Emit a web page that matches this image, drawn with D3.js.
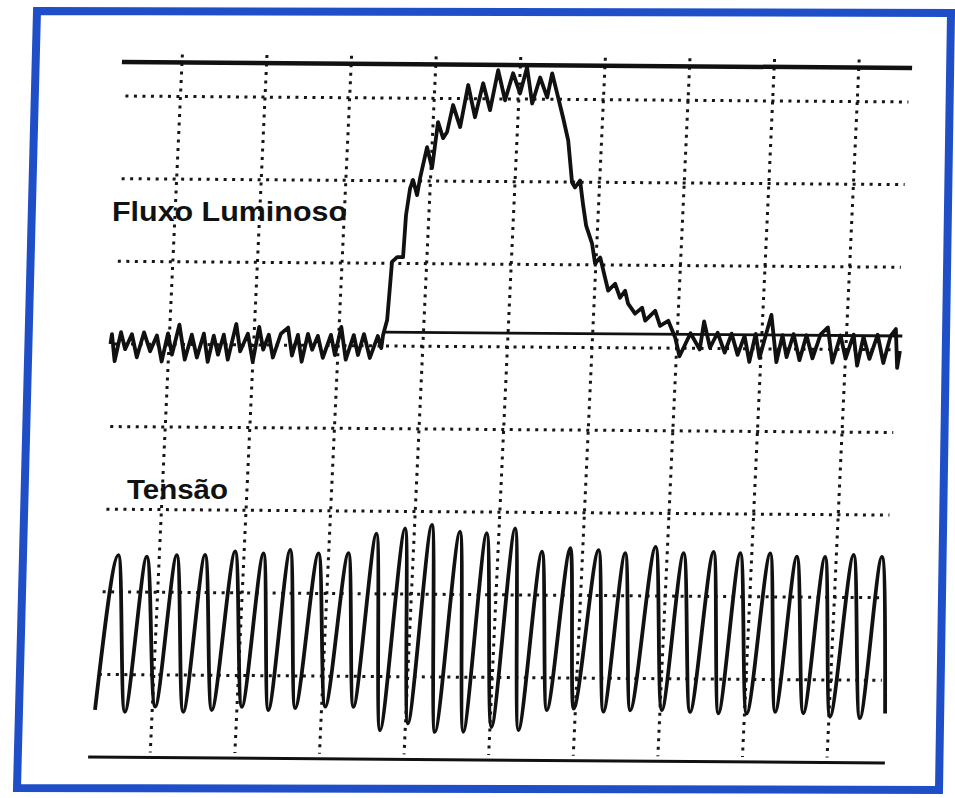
<!DOCTYPE html>
<html>
<head>
<meta charset="utf-8">
<script src="https://cdn.jsdelivr.net/npm/d3@7/dist/d3.min.js"></script>
<style>
  body { margin: 0; background: #fff; }
  svg { display: block; }
</style>
</head>
<body>
<svg id="chart" width="955" height="798"></svg>
<script>
// time in ms (50 ms / div), flux in % of peak, voltage in V (200 V / div)
var gridTimes = [50, 100, 150, 200, 250, 300, 350, 400, 450];
var gridDivs = [0, 1, 2, 3, 4, 5, 6, 7];
var labels = ['Fluxo Luminoso', 'Tensão'];

var fluxT = [15.4, 16.0, 18.3, 21.3, 24.2, 27.8, 31.3, 34.9, 39.0, 42.6, 46.1, 49.1, 52.0, 55.6, 59.7, 63.2, 66.8, 70.3, 73.3, 76.2,
  79.2, 82.1, 85.1, 89.2, 92.2, 96.3, 99.9, 102.8, 105.8, 108.7, 111.7, 115.8, 119.9, 122.9, 125.9, 128.8, 131.8, 134.7, 137.7, 141.2,
  145.4, 148.3, 151.3, 154.8, 158.9, 161.9, 164.9, 169.0, 173.1, 175.5,
  176.2, 178.2, 179.5, 182.4, 185.9, 186.5, 188.2, 189.7, 192.5, 193.8, 197.1, 200.6, 202.9, 206.3, 208.5, 211.3, 216.1, 219.7, 224.6, 228.5,
  233.3, 237.0, 241.9, 245.9, 250.6, 254.0, 258.0, 262.0, 266.7, 269.0, 272.5, 276.6, 280.3, 283.7, 285.6, 288.4, 290.9, 293.2, 297.2, 299.5,
  302.4, 305.8, 308.0, 311.9, 315.2, 318.0, 320.1, 324.5, 328.5, 330.7, 336.3, 339.6, 344.3, 348.9,
  351.9, 357.8, 363.7, 365.5, 369.7, 373.8, 378.5, 382.1, 386.2, 389.8, 393.3, 396.3, 399.2, 405.1, 409.3, 412.2, 415.2, 418.7, 422.9, 426.4,
  430.5, 434.7, 438.8, 442.4, 446.5, 450.1, 454.2, 457.1, 460.1, 464.2, 468.4, 472.5, 476.1, 479.0, 480.8, 482.0];
var fluxPct = [-5.2, -1.5, -11.6, -0.8, -7.1, -1.5, -10.1, -0.8, -7.8, -1.9, -11.6, -1.1, -9.0, 2.2, -10.8, -1.5, -10.0, -1.1, -11.6, -1.8,
  -8.9, -1.4, -10.7, 2.6, -7.6, -1.0, -11.4, 1.6, -6.9, -1.3, -9.8, -0.9, 1.4, -9.0, -1.3, -11.3, -0.9, -6.8, -1.6, -9.8,
  -1.2, -8.7, 1.8, -10.4, -1.2, -8.6, -0.8, -9.7, -1.5, -6.0,
  -1.1, 4.5, 26.2, 28.0, 28.0, 43.7, 53.8, 56.8, 51.2, 57.5, 69.1, 61.3, 78.5, 72.5, 74.8, 84.9, 76.7, 92.4, 80.4, 93.1,
  83.1, 98.0, 86.8, 96.9, 89.4, 99.2, 85.7, 95.4, 88.0, 97.0, 89.5, 80.6, 72.0, 56.3, 54.5, 57.1, 47.8, 40.3, 33.6, 26.2,
  28.4, 20.9, 16.1, 18.7, 13.5, 16.1, 11.3, 7.6, 9.8, 5.0, 8.7, 3.1, 5.0, -1.3,
  -8.2, 0.4, -5.6, 4.9, -4.9, 0.7, -6.7, 0.4, -7.5, -0.4, -10.1, 0.4, -8.6, 7.5, -10.1, 0, -8.2, 0.4, -9.3, 0,
  -8.6, 0.4, 3.0, -10.1, 0, -8.6, 0.4, -11.2, -0.4, -8.6, 0.4, -10.1, 0, 2.6, -11.9, -5.6];

// voltage: successive troughs and crests
var voltT = [16.2, 25.8, 33.9, 42.6, 51.7, 60.3, 68.4, 77.0, 85.2, 94.7, 102.9, 111.5, 118.6, 127.2, 134.4, 144.0, 152.1, 161.7, 168.8, 177.7,
  185.1, 194.5, 201.4, 210.2, 217.6, 227.0, 234.4, 242.8, 250.9, 259.5, 266.9, 276.0, 283.1, 292.7, 298.9, 309.4, 316.6, 325.2, 332.4, 343.0,
  351.1, 359.7, 367.8, 377.4, 384.6, 393.2, 401.3, 410.9, 418.1, 426.7, 434.8, 443.4, 450.6, 460.2, 468.3, 476.9, 483.1];
var voltV = [-186, 189, -190, 186, -177, 190, -189, 191, -184, 200, -176, 196, -183, 205, -178, 197, -174, 198, -174, 246,
  -230, 259, -213, 268, -233, 252, -232, 249, -220, 261, -227, 205, -178, 214, -174, 210, -181, 203, -177, 219,
  -176, 204, -180, 208, -183, 205, -183, 205, -178, 198, -181, 198, -189, 203, -192, 199, -180];

// reference traces
var fluxTopT = [14.5, 481.5];
var fluxZeroT = [176.2, 483];
var voltBottomT = [13.4, 484.3];

var svg = d3.select('#chart');

svg.append('polygon')
    .attr('points', '37,11 951,13 939,790 17,788')
    .style('fill', '#fff')
    .style('stroke', '#1f4fc8')
    .style('stroke-width', 8)
    .style('stroke-linejoin', 'miter');

// the scanned screen is a bit skewed
var plot = svg.append('g')
    .attr('transform', 'matrix(1,0.0076,-0.046,1,122,62)');

var x = d3.scaleLinear().domain([0, 500]).range([-24.6, 821.4]);
var gy = d3.scaleLinear().domain([0, 8]).range([34, 695]);
var fy = d3.scaleLinear().domain([0, 100]).range([268, 0]);
var vy = d3.scaleLinear().domain([-300, 300]).range([gy(8), gy(5)]);

plot.selectAll('.vgrid')
    .data(gridTimes)
    .enter().append('line')
    .attr('class', 'vgrid')
    .attr('x1', function(d) { return x(d); })
    .attr('x2', function(d) { return x(d); })
    .attr('y1', -8)
    .attr('y2', 690)
    .style('stroke', '#161616')
    .style('stroke-width', 3)
    .style('stroke-dasharray', '3 5.5');

plot.selectAll('.hgrid')
    .data(gridDivs)
    .enter().append('line')
    .attr('class', 'hgrid')
    .attr('x1', 5)
    .attr('x2', 788)
    .attr('y1', function(d) { return gy(d); })
    .attr('y2', function(d) { return gy(d); })
    .style('stroke', '#161616')
    .style('stroke-width', 3)
    .style('stroke-dasharray', '3 5.5');

function refLine(ts, yv, w) {
  plot.append('line')
      .attr('x1', x(ts[0])).attr('x2', x(ts[1]))
      .attr('y1', yv).attr('y2', yv)
      .style('stroke', '#111')
      .style('stroke-width', w);
}
refLine(fluxTopT, fy(100), 4.5);
refLine(fluxZeroT, fy(0), 2.8);
refLine(voltBottomT, vy(-300), 3);

var fluxLine = d3.line()
    .x(function(d, i) { return x(fluxT[i]); })
    .y(function(d) { return fy(d); });

plot.append('path')
    .datum(fluxPct)
    .attr('d', fluxLine)
    .style('fill', 'none')
    .style('stroke', '#111')
    .style('stroke-width', 3.8)
    .style('stroke-linejoin', 'round');

var voltLine = d3.line()
    .curve(d3.curveMonotoneX)
    .x(function(d, i) { return x(voltT[i]); })
    .y(function(d) { return vy(d); });

plot.append('path')
    .datum(voltV)
    .attr('d', voltLine)
    .style('fill', 'none')
    .style('stroke', '#111')
    .style('stroke-width', 3.8)
    .style('stroke-linejoin', 'round');

svg.append('text')
    .attr('x', 112).attr('y', 221)
    .attr('textLength', 235)
    .attr('lengthAdjust', 'spacingAndGlyphs')
    .style('font-family', '"Liberation Sans", Arial, sans-serif')
    .style('font-weight', 'bold')
    .style('font-size', '28px')
    .style('fill', '#111')
    .text(labels[0]);

svg.append('text')
    .attr('x', 127).attr('y', 499)
    .attr('textLength', 101)
    .attr('lengthAdjust', 'spacingAndGlyphs')
    .style('font-family', '"Liberation Sans", Arial, sans-serif')
    .style('font-weight', 'bold')
    .style('font-size', '28px')
    .style('fill', '#111')
    .text(labels[1]);
</script>
</body>
</html>
